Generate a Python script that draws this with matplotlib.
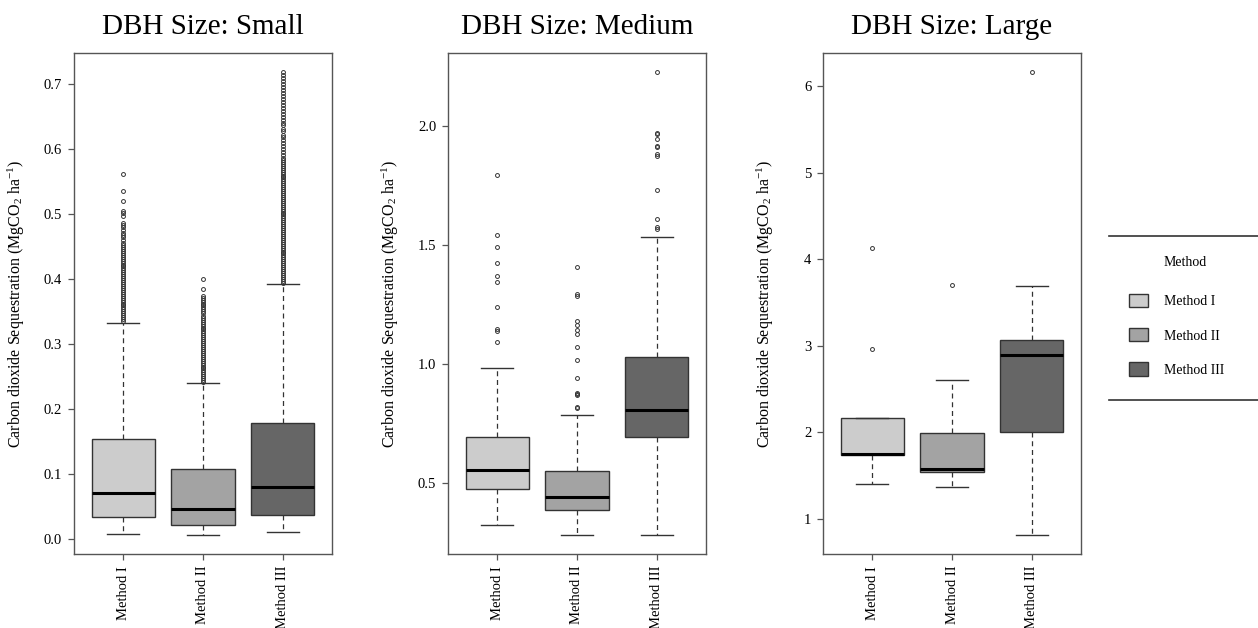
import matplotlib
matplotlib.use('Agg')
import matplotlib.pyplot as plt
from matplotlib.patches import Patch
from matplotlib.lines import Line2D

plt.rcParams['font.family'] = ['Liberation Serif', 'DejaVu Serif']
plt.rcParams['mathtext.fontset'] = 'custom'
plt.rcParams['mathtext.rm'] = 'Liberation Serif'
plt.rcParams['mathtext.it'] = 'Liberation Serif:italic'

methods = ['Method I', 'Method II', 'Method III']
fills = ['#cccccc', '#a3a3a3', '#666666']
sizes = ['Small', 'Medium', 'Large']

# five number summaries per method: lower whisker, Q1, median, Q3, upper whisker
small_stats = [[0.0066, 0.0328, 0.0704, 0.154, 0.332],
               [0.0050, 0.0210, 0.0460, 0.108, 0.239],
               [0.0097, 0.0365, 0.0790, 0.178, 0.392]]
medium_stats = [[0.323, 0.473, 0.555, 0.694, 0.982],
                [0.279, 0.385, 0.442, 0.551, 0.784],
                [0.279, 0.691, 0.808, 1.031, 1.534]]
large_stats = [[1.400, 1.731, 1.750, 2.167, 2.167],
               [1.369, 1.540, 1.578, 1.995, 2.599],
               [0.807, 2.000, 2.896, 3.063, 3.689]]

# outliers (dense columns read as closely packed points)
small_out_1 = [0.335, 0.338, 0.341, 0.344, 0.347, 0.350, 0.353, 0.356, 0.359,
               0.362, 0.365, 0.368, 0.371, 0.374, 0.377, 0.380, 0.383, 0.386,
               0.389, 0.392, 0.395, 0.398, 0.401, 0.404, 0.407, 0.410, 0.413,
               0.416, 0.419, 0.422, 0.425, 0.428, 0.431, 0.434, 0.437, 0.440,
               0.443, 0.446, 0.449, 0.452, 0.455, 0.460, 0.464, 0.467, 0.471,
               0.475, 0.479, 0.483, 0.486, 0.496, 0.501, 0.504, 0.519, 0.535,
               0.561]
small_out_2 = [0.241, 0.244, 0.247, 0.250, 0.253, 0.256, 0.259, 0.262, 0.265,
               0.268, 0.271, 0.274, 0.277, 0.280, 0.283, 0.286, 0.289, 0.292,
               0.295, 0.298, 0.301, 0.304, 0.307, 0.310, 0.313, 0.316, 0.319,
               0.322, 0.325, 0.328, 0.331, 0.334, 0.337, 0.340, 0.343, 0.347,
               0.350, 0.353, 0.356, 0.359, 0.362, 0.365, 0.368, 0.371, 0.374,
               0.385, 0.400]
small_out_3 = [0.394, 0.397, 0.400, 0.403, 0.406, 0.409, 0.412, 0.415, 0.418,
               0.421, 0.424, 0.427, 0.430, 0.433, 0.436, 0.439, 0.442, 0.445,
               0.448, 0.451, 0.454, 0.457, 0.460, 0.463, 0.466, 0.469, 0.472,
               0.475, 0.478, 0.481, 0.484, 0.487, 0.490, 0.493, 0.496, 0.499,
               0.502, 0.505, 0.508, 0.511, 0.514, 0.517, 0.520, 0.523, 0.526,
               0.529, 0.532, 0.535, 0.538, 0.541, 0.544, 0.547, 0.550, 0.553,
               0.556, 0.559, 0.562, 0.565, 0.568, 0.571, 0.574, 0.577, 0.580,
               0.583, 0.586, 0.591, 0.595, 0.600, 0.604, 0.609, 0.613, 0.618,
               0.622, 0.627, 0.631, 0.636, 0.640, 0.645, 0.649, 0.654, 0.658,
               0.663, 0.667, 0.672, 0.676, 0.681, 0.686, 0.690, 0.695, 0.700,
               0.704, 0.709, 0.714, 0.719]
medium_out_1 = [1.091, 1.138, 1.149, 1.240, 1.344, 1.371, 1.424, 1.494, 1.541,
                1.794]
medium_out_2 = [0.814, 0.820, 0.868, 0.873, 0.878, 0.940, 1.017, 1.070, 1.128,
                1.145, 1.163, 1.181, 1.286, 1.296, 1.406]
medium_out_3 = [1.569, 1.577, 1.610, 1.730, 1.876, 1.882, 1.912, 1.918, 1.945,
                1.968, 1.973, 2.230]
large_out_1 = [2.96, 4.13]
large_out_2 = [3.70]
large_out_3 = [6.167]

small_ticks = [0.0, 0.1, 0.2, 0.3, 0.4, 0.5, 0.6, 0.7]
medium_ticks = [0.5, 1.0, 1.5, 2.0]
large_ticks = [1, 2, 3, 4, 5, 6]

panels = [
    (small_stats, [small_out_1, small_out_2, small_out_3], small_ticks, '{:.1f}'),
    (medium_stats, [medium_out_1, medium_out_2, medium_out_3], medium_ticks, '{:.1f}'),
    (large_stats, [large_out_1, large_out_2, large_out_3], large_ticks, '{:.0f}'),
]

W, H = 1258, 628
fig = plt.figure(figsize=(W / 100, H / 100), dpi=100)
lefts = [74, 448, 823]
edge = '#333333'
frame = '#555555'

for k, (stats, outs, ticks, fmt) in enumerate(panels):
    ax = fig.add_axes([lefts[k] / W, 1 - 554 / H, 258 / W, 501 / H])
    bstats = []
    for s, o in zip(stats, outs):
        bstats.append(dict(whislo=s[0], q1=s[1], med=s[2], q3=s[3],
                           whishi=s[4], fliers=o))
    bp = ax.bxp(bstats, positions=[1, 2, 3], widths=0.8, patch_artist=True,
                capwidths=0.4,
                boxprops=dict(edgecolor=edge, linewidth=1.0),
                medianprops=dict(color='black', linewidth=2.2,
                                 solid_capstyle='butt'),
                whiskerprops=dict(color=edge, linewidth=0.9,
                                  linestyle=(0, (4, 3))),
                capprops=dict(color=edge, linewidth=1.0),
                flierprops=dict(marker='o', markersize=2.8,
                                markerfacecolor='none',
                                markeredgecolor=edge, markeredgewidth=0.7))
    for box, c in zip(bp['boxes'], fills):
        box.set_facecolor(c)

    # R style 4% padding around the data range
    vals = [v for s in stats for v in s] + [v for o in outs for v in o]
    lo, hi = min(vals), max(vals)
    pad = 0.04 * (hi - lo)
    ax.set_ylim(lo - pad, hi + pad)
    ax.set_xlim(0.38, 3.62)
    ax.set_xticks([1, 2, 3])
    ax.set_xticklabels(methods, rotation=90, fontsize=10.5)
    ax.set_yticks(ticks)
    ax.set_yticklabels([fmt.format(t) for t in ticks], fontsize=10.5)
    ax.tick_params(length=4.5, width=0.9, color=frame, pad=4)
    for sp in ax.spines.values():
        sp.set_color(frame)
        sp.set_linewidth(1.0)
    ax.set_title('DBH Size: ' + sizes[k], fontsize=21, pad=13.5)
    ax.set_ylabel(r'Carbon dioxide Sequestration (MgCO$_\mathrm{2}$ ha$^\mathrm{-1}$)',
                  fontsize=11.5)
    ax.yaxis.set_label_coords(-47 / 258, 0.5)

# legend on the right, with rules above and below as in the original
handles = [Patch(facecolor=c, edgecolor=edge, linewidth=1.0) for c in fills]
fig.legend(handles, methods, loc='upper left',
           bbox_to_anchor=(1129 / W, 1 - 294 / H), frameon=False,
           borderaxespad=0, borderpad=0,
           fontsize=10, handlelength=1.4, handleheight=1.1,
           handletextpad=1.15, labelspacing=1.42)
fig.text(1185 / W, 1 - 262 / H, 'Method', fontsize=10, ha='center', va='center')
for y in [236, 400]:
    fig.add_artist(Line2D([1109 / W, 1.0], [1 - y / H, 1 - y / H],
                          color='#333333', linewidth=1.2))

fig.savefig('out.png', dpi=100)
